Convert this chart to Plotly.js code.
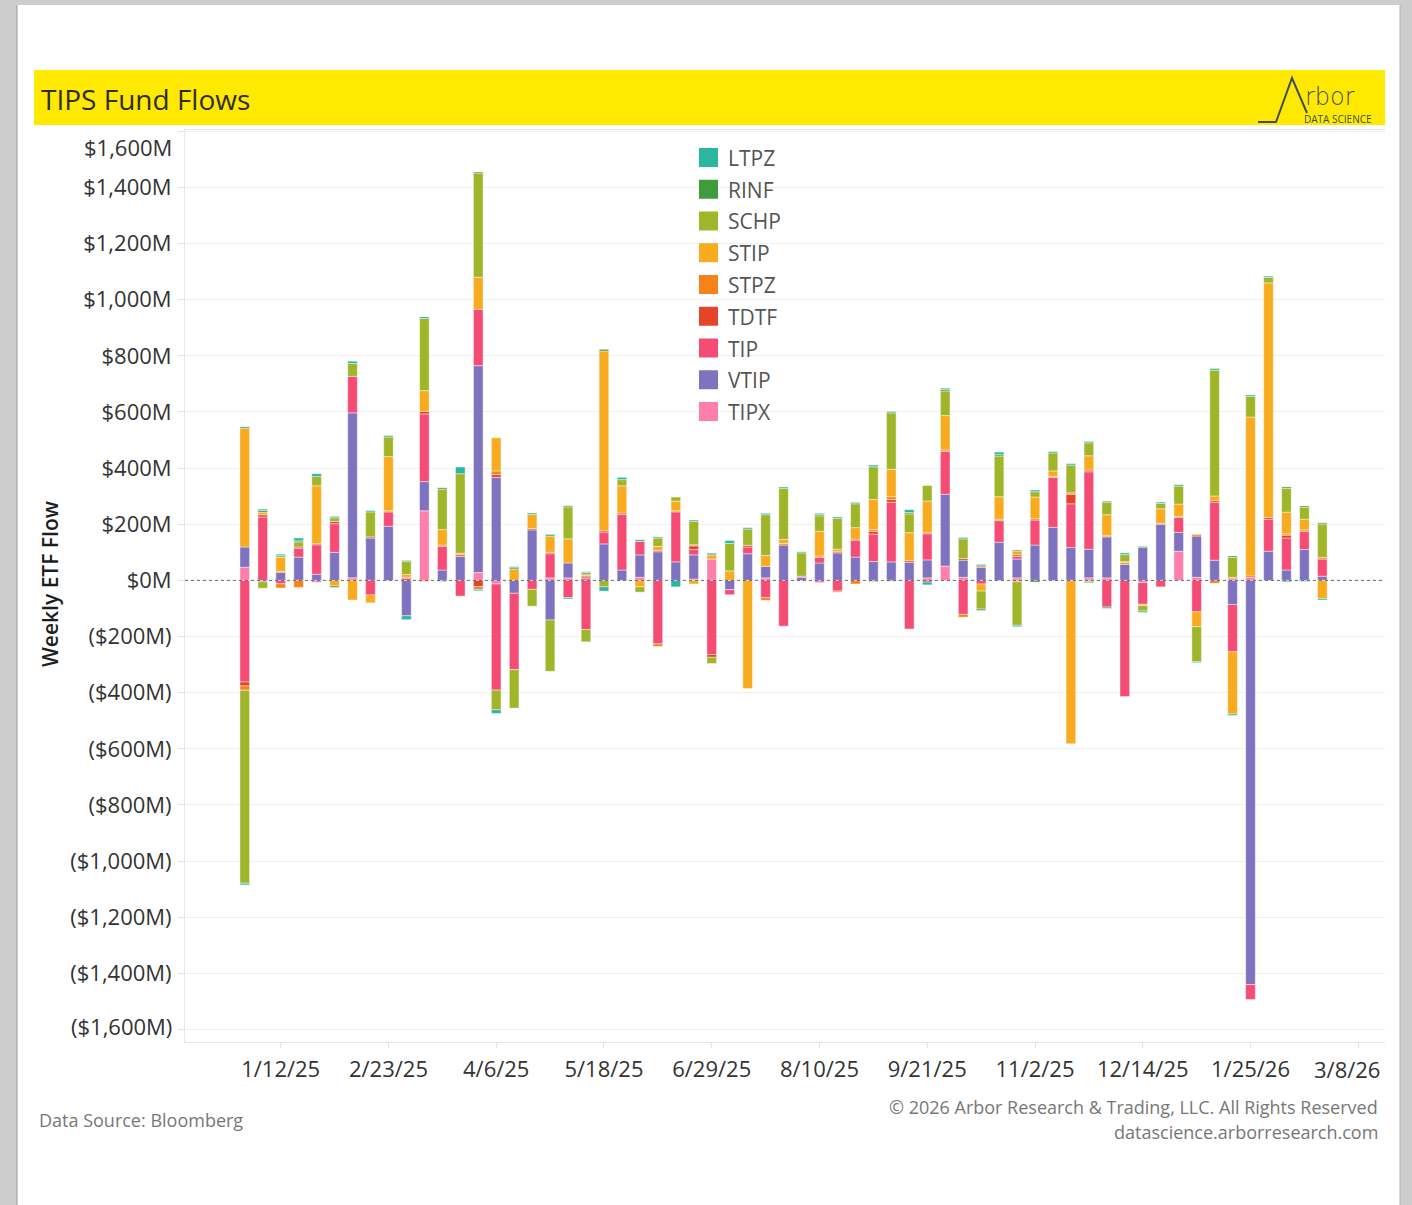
<!DOCTYPE html>
<html>
<head>
<meta charset="utf-8">
<script src="https://cdn.plot.ly/plotly-3.0.1.min.js"></script>
<style>
  html, body { margin: 0; padding: 0; background: #ffffff; }
  #chart { width: 1412px; height: 1205px; }
</style>
</head>
<body>
<div id="chart"></div>
<script>
// ---------------- DATA ----------------
const weeks = [
  '2024-12-29','2025-01-05','2025-01-12','2025-01-19','2025-01-26','2025-02-02','2025-02-09','2025-02-16','2025-02-23','2025-03-02',
  '2025-03-09','2025-03-16','2025-03-23','2025-03-30','2025-04-06','2025-04-13','2025-04-20','2025-04-27','2025-05-04','2025-05-11',
  '2025-05-18','2025-05-25','2025-06-01','2025-06-08','2025-06-15','2025-06-22','2025-06-29','2025-07-06','2025-07-13','2025-07-20',
  '2025-07-27','2025-08-03','2025-08-10','2025-08-17','2025-08-24','2025-08-31','2025-09-07','2025-09-14','2025-09-21','2025-09-28',
  '2025-10-05','2025-10-12','2025-10-19','2025-10-26','2025-11-02','2025-11-09','2025-11-16','2025-11-23','2025-11-30','2025-12-07',
  '2025-12-14','2025-12-21','2025-12-28','2026-01-04','2026-01-11','2026-01-18','2026-01-25','2026-02-01','2026-02-08','2026-02-15',
  '2026-02-22'
];

// Weekly flows, $M
const LTPZ = [
  -6, 5, 5, 10, 10, 5, 8, 5, 5, -14,
  6, -4, 24, -5, -13, 4, 5, 6, -5, 3,
  -15, 8, 6, 4, -23, 5, 6, 10, 5, 5,
  5, 4, 4, 5, 5, 6, 5, 10, -10, 4,
  5, 5, 9, -5, 6, 5, 5, 5, -5, 6,
  -5, 5, 5, -4, 6, -5, 5, 5, -5, -4,
  -5
];
const RINF = [
  5, 6, 0, 4, 0, -5, 0, 0, 0, 4,
  0, 5, 0, 4, 0, 5, 0, 0, 4, 5,
  6, 0, 0, 0, 0, 0, 0, 0, 0, 0,
  0, 0, 5, 0, 0, -4, -3, 5, 0, 6,
  0, -5, 5, 4, -6, 0, 0, -4, 4, 0,
  4, 0, 0, 0, 0, 5, 0, 0, 5, 5,
  4
];
const SCHP = [
  -688, -23, 6, 18, 33, 13, 46, 89, 70, 46,
  257, 144, 283, 371, -70, -137, -60, -183, 114, -44,
  -23, 22, -19, 30, 15, 83, -22, 98, 58, 145,
  182, 83, 55, 110, 85, 117, 201, 67, 55, 88,
  70, -64, 145, -155, 19, 64, 99, 46, 44, 25,
  -19, 19, 64, -124, 448, 71, 74, 19, 85, 42,
  119
];
const STIP = [
  423, 9, 50, 0, 206, -20, -70, -28, 193, 10,
  74, 55, 6, 114, 118, 40, 50, 58, 86, 6,
  640, 97, -23, 14, 34, -13, 15, 34, -385, 39,
  14, 0, 88, 9, 41, 107, 98, 100, 112, 122,
  0, -25, 80, 13, 77, 19, -582, 51, 75, 4,
  -5, 51, 44, -53, 17, -222, 566, 836, 77, 38,
  -65
];
const STPZ = [
  -15, 0, -15, -25, 0, 0, 0, 0, 4, 0,
  -4, 5, 0, -10, 13, 0, 0, 0, 0, 5,
  0, 0, 0, -9, 4, 4, 0, 0, 0, -10,
  6, 0, 5, -4, -13, 6, 10, 0, 5, 6,
  -10, 5, 5, -5, 5, 4, 5, -4, 4, 6,
  0, 4, 4, 6, -10, 5, 0, 0, 5, 6,
  6
];
const TDTF = [
  -14, 8, 4, 4, 4, 8, 0, 4, 0, 3,
  9, 0, 6, -22, 10, 0, 5, 5, 0, 6,
  5, 5, 0, 5, 0, 13, -10, 0, 6, 0,
  0, 0, 0, 4, 4, 10, 10, 6, -6, 0,
  6, 0, 0, 6, 0, 0, 34, 6, 0, 0,
  0, 0, 0, 0, 6, 0, 5, 6, 10, 0,
  0
];
const TIP = [
  -362, 226, -12, 32, 105, 102, 130, -52, 51, 8,
  241, 84, -56, 201, -378, -272, -32, 86, -61, -175,
  42, 198, 48, -226, 178, 19, -264, -18, 24, -61,
  -163, 4, 20, -38, 60, 98, 212, -173, 93, 152,
  -121, -13, 77, 9, 89, 178, 156, 276, -95, -414,
  -77, -23, 53, -112, 206, -168, -53, 114, 114, 64,
  61
];
const VTIP = [
  72, -5, 28, 83, 22, 100, 588, 151, 193, -126,
  104, 37, 85, 737, 367, -46, 180, -141, 53, 6,
  130, 37, 80, 102, 66, 86, 0, -33, 95, 41,
  126, 11, 62, 98, 83, 67, 66, 64, 64, 256,
  61, 47, 136, 67, 126, 189, 117, 102, 146, 57,
  117, 200, 67, 147, 72, -86, -1440, 104, 37, 110,
  15
];
const TIPX = [
  47, 0, 0, 0, -7, 0, 9, 0, 0, 0,
  248, 0, 0, 28, -13, 0, 0, 9, 9, 0,
  0, 0, 11, 0, 0, 5, 76, 0, 0, 9,
  0, 0, -8, 0, 0, 0, 0, 0, 9, 51,
  11, 0, 0, 9, 0, 0, 0, 9, 9, 0,
  -8, 0, 104, 11, 0, 6, 11, 0, 0, 0,
  0
];

// legend order (top to bottom) and colours
const seriesNames  = ['LTPZ','RINF','SCHP','STIP','STPZ','TDTF','TIP','VTIP','TIPX'];
const seriesValues = [LTPZ, RINF, SCHP, STIP, STPZ, TDTF, TIP, VTIP, TIPX];
const seriesColors = ['#2bb6a0','#3f9c3c','#a1b52a','#f8ab1f','#f7821a','#e4452a','#f44c75','#7f73bf','#fe7fac'];

// axis ticks
const xTickVals = ['2025-01-12','2025-02-23','2025-04-06','2025-05-18','2025-06-29','2025-08-10','2025-09-21','2025-11-02','2025-12-14','2026-01-25','2026-03-08'];
const xTickText = ['1/12/25','2/23/25','4/6/25','5/18/25','6/29/25','8/10/25','9/21/25','11/2/25','12/14/25','1/25/26','3/8/26'];
const yTickVals = [-1600,-1400,-1200,-1000,-800,-600,-400,-200,0,200,400,600,800,1000,1200,1400,1600];
const yTickText = ['($1,600M)','($1,400M)','($1,200M)','($1,000M)','($800M)','($600M)','($400M)','($200M)','$0M',
                   '$200M','$400M','$600M','$800M','$1,000M','$1,200M','$1,400M','$1,600M'];

// ---------------- LAYOUT HELPERS ----------------
const W = 1412, H = 1205;
const PL = 185, PR = 1385, PT = 130, PB = 1042;
const px = x => (x - PL) / (PR - PL);
const py = y => (PB - y) / (PB - PT);
const FONT = '"Open Sans", "DejaVu Sans", sans-serif';
const DAY = 86400000;
const TICK_SIZE = 22;

// traces: stack from zero outward in reverse legend order
const traces = [];
for (let i = seriesNames.length - 1; i >= 0; i--) {
  traces.push({
    type: 'bar',
    name: seriesNames[i],
    x: weeks,
    y: seriesValues[i].map(v => v === 0 ? null : v),
    width: 3.75 * DAY,
    marker: { color: seriesColors[i], line: { color: 'rgba(255,255,255,0.55)', width: 0.8 } },
    hovertemplate: '%{x|%m/%d/%y} ' + seriesNames[i] + ': %{y}M<extra></extra>'
  });
}

const shapes = [];
const annotations = [];

// page frame (grey border)
shapes.push({type:'rect', xref:'paper', yref:'paper', x0:px(0), x1:px(17), y0:py(0), y1:py(H), fillcolor:'#cdcdcd', line:{width:0}, layer:'below'});
shapes.push({type:'rect', xref:'paper', yref:'paper', x0:px(1400), x1:px(W), y0:py(0), y1:py(H), fillcolor:'#cdcdcd', line:{width:0}, layer:'below'});
shapes.push({type:'rect', xref:'paper', yref:'paper', x0:px(0), x1:px(W), y0:py(0), y1:py(5), fillcolor:'#cdcdcd', line:{width:0}, layer:'below'});
shapes.push({type:'line', xref:'paper', yref:'paper', x0:px(17), x1:px(17), y0:py(5), y1:py(H), line:{color:'#9a9a9a', width:1}});
shapes.push({type:'line', xref:'paper', yref:'paper', x0:px(1400), x1:px(1400), y0:py(5), y1:py(H), line:{color:'#b5b5b5', width:1}});

// header band
shapes.push({type:'rect', xref:'paper', yref:'paper', x0:px(34), x1:px(1385), y0:py(125), y1:py(70), fillcolor:'#ffe900', line:{width:0}});
annotations.push({xref:'paper', yref:'paper', x:px(39), y:py(99), xanchor:'left', yanchor:'middle', showarrow:false,
  text:'TIPS Fund Flows', font:{family:FONT, size:28, color:'#2e2e2e'}});

// Arbor logo
const logoPts = [[1258,122],[1276,122],[1292,78],[1307,113]];
shapes.push({type:'path', xref:'paper', yref:'paper',
  path: logoPts.map((p,i)=> (i===0?'M':'L') + px(p[0]) + ',' + py(p[1])).join(' '),
  line:{color:'#3c4f5e', width:2}});
annotations.push({xref:'paper', yref:'paper', x:px(1303), y:py(97), xanchor:'left', yanchor:'middle', showarrow:false,
  text:'rbor', font:{family:'"DejaVu Sans", sans-serif', size:24, color:'#3c4f5e', weight:300}});
annotations.push({xref:'paper', yref:'paper', x:px(1374), y:py(119), xanchor:'right', yanchor:'middle', showarrow:false,
  text:'DATA SCIENCE', font:{family:FONT, size:10, color:'#3c4f5e'}});

// zero line (dotted)
shapes.push({type:'line', xref:'paper', yref:'y', x0:0, x1:1, y0:0, y1:0, line:{color:'#6b6b6b', width:1, dash:'dot'}});

// manual legend
seriesNames.forEach((n, i) => {
  const top = 148 + i * 31.75;
  shapes.push({type:'rect', xref:'paper', yref:'paper', x0:px(699), x1:px(718), y0:py(top + 19), y1:py(top),
    fillcolor: seriesColors[i], line:{width:0}});
  annotations.push({xref:'paper', yref:'paper', x:px(726), y:py(top + 10), xanchor:'left', yanchor:'middle', showarrow:false,
    text:n, font:{family:FONT, size:21, color:'#555555'}});
});

// y tick labels that sit at the plot edges (drawn inside the frame)
yTickVals.forEach((v, i) => {
  if (v === 1600) annotations.push({xref:'paper', yref:'paper', x:px(174), y:py(147), xanchor:'right', yanchor:'middle', showarrow:false,
    text:yTickText[i], font:{family:FONT, size:TICK_SIZE, color:'#333333'}});
  if (v === -1600) annotations.push({xref:'paper', yref:'paper', x:px(174), y:py(1026), xanchor:'right', yanchor:'middle', showarrow:false,
    text:yTickText[i], font:{family:FONT, size:TICK_SIZE, color:'#333333'}});
});

// last x tick label is clamped inside the plot edge
annotations.push({xref:'paper', yref:'paper', x:px(1382), y:py(1069), xanchor:'right', yanchor:'middle', showarrow:false,
  text:xTickText[xTickText.length - 1], font:{family:FONT, size:TICK_SIZE, color:'#333333'}});

// y axis title
annotations.push({xref:'paper', yref:'paper', x:px(50), y:py(584), xanchor:'center', yanchor:'middle', showarrow:false,
  textangle:-90, text:'Weekly ETF Flow', font:{family:FONT, size:21, color:'#1e1e1e', weight:600}});

// footer
annotations.push({xref:'paper', yref:'paper', x:px(37), y:py(1120), xanchor:'left', yanchor:'middle', showarrow:false,
  text:'Data Source: Bloomberg', font:{family:FONT, size:18, color:'#777777'}});
annotations.push({xref:'paper', yref:'paper', x:px(1380), y:py(1107), xanchor:'right', yanchor:'middle', showarrow:false,
  text:'© 2026 Arbor Research &amp; Trading, LLC. All Rights Reserved', font:{family:FONT, size:18, color:'#777777'}});
annotations.push({xref:'paper', yref:'paper', x:px(1380), y:py(1132), xanchor:'right', yanchor:'middle', showarrow:false,
  text:'datascience.arborresearch.com', font:{family:FONT, size:18, color:'#777777'}});

const layout = {
  width: W, height: H,
  margin: {l: PL, r: W - PR, t: PT, b: H - PB, pad: 0},
  paper_bgcolor: '#ffffff',
  plot_bgcolor: '#ffffff',
  barmode: 'relative',
  showlegend: false,
  font: {family: FONT, color: '#333333'},
  xaxis: {
    type: 'date',
    range: ['2024-12-05 17:00', '2026-03-18 10:00'],
    tickvals: xTickVals,
    ticktext: xTickText.map((t, i) => i === xTickText.length - 1 ? '' : t),
    tickfont: {family: FONT, size: TICK_SIZE, color: '#333333'},
    ticks: 'outside', ticklen: 5, tickcolor: '#e2e2e2',
    ticklabelstandoff: 3,
    showgrid: false, zeroline: false,
    showline: true, linecolor: '#e6e6e6', linewidth: 1, mirror: true,
    fixedrange: true
  },
  yaxis: {
    range: [-1644.5, 1604.6],
    tickvals: yTickVals,
    ticktext: yTickText.map((t, i) => Math.abs(yTickVals[i]) === 1600 ? '' : t),
    tickfont: {family: FONT, size: TICK_SIZE, color: '#333333'},
    ticks: 'outside', ticklen: 6, tickcolor: '#e2e2e2',
    ticklabelstandoff: 2,
    showgrid: true, gridcolor: '#efefef', gridwidth: 1,
    zeroline: false,
    showline: true, linecolor: '#e6e6e6', linewidth: 1,
    fixedrange: true
  },
  shapes: shapes,
  annotations: annotations
};

Plotly.newPlot('chart', traces, layout, {displayModeBar: false, staticPlot: true});
</script>
</body>
</html>
